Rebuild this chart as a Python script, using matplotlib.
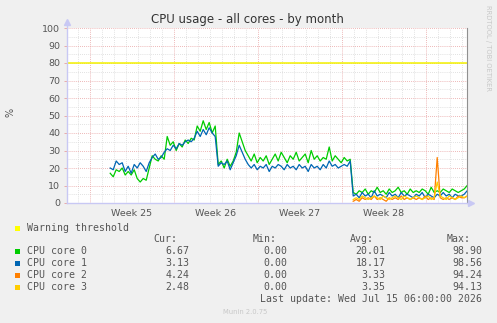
import numpy as np
import matplotlib
matplotlib.use("Agg")
import matplotlib.pyplot as plt
from matplotlib.patches import Rectangle

# ---- data (days since left edge of graph, 12 px per day) ----
t_start = 3.6
step = 0.25
core0 = [17, 15, 19, 18, 20, 16, 18, 16, 19, 14, 12, 14, 13, 20, 27, 25, 24, 27, 25, 38,
         33, 35, 30, 34, 32, 36, 34, 37, 36, 44, 41, 47, 42, 46, 40, 44, 22, 24, 20, 25,
         21, 24, 29, 40, 35, 30, 27, 24, 28, 23, 26, 24, 27, 22, 25, 28, 24, 29, 26, 23,
         27, 25, 29, 24, 26, 28, 23, 30, 25, 27, 24, 26, 25, 32, 24, 27, 25, 23, 26, 24,
         25, 6, 5, 7, 6, 8, 5, 7, 6, 9, 6, 7, 5, 8, 6, 7, 9, 6, 7, 5,
         8, 6, 7, 6, 8, 7, 5, 9, 6, 7, 6, 8, 7, 6, 8, 7, 6, 7, 8, 10]
core1 = [20, 19, 24, 22, 23, 18, 21, 17, 22, 20, 23, 21, 18, 23, 26, 28, 25, 26, 29, 31,
         30, 33, 31, 34, 33, 35, 36, 35, 37, 41, 38, 42, 39, 43, 40, 38, 21, 23, 22, 24,
         19, 23, 27, 33, 29, 25, 22, 20, 22, 19, 21, 20, 22, 18, 21, 20, 22, 21, 19, 22,
         20, 21, 19, 22, 20, 21, 18, 22, 20, 21, 19, 22, 20, 24, 21, 22, 20, 21, 22, 21,
         24, 4, 5, 3, 6, 4, 5, 3, 7, 4, 5, 4, 3, 6, 4, 5, 3, 6, 4, 5,
         4, 3, 5, 4, 6, 3, 5, 4, 3, 5, 4, 6, 4, 5, 3, 5, 4, 4, 5, 7]
t2_start = 23.85
core2 = [1, 2, 1, 3, 2, 3, 2, 4, 2, 3, 2, 1, 3, 2, 3, 2, 4, 2, 3, 2,
         3, 2, 3, 2, 4, 2, 3, 2, 26, 3, 2, 3, 2, 3, 2, 4, 3, 3, 4]
core3 = [2, 3, 2, 4, 3, 2, 3, 4, 3, 2, 4, 3, 2, 3, 4, 3, 2, 4, 3, 2,
         3, 4, 3, 2, 3, 4, 2, 3, 12, 4, 3, 2, 4, 3, 2, 3, 4, 3, 4]
warning = 80

names = ["CPU core 0", "CPU core 1", "CPU core 2", "CPU core 3"]
colors = ["#00cc00", "#0066b3", "#ff8000", "#ffcc00"]
cur = ["6.67", "3.13", "4.24", "2.48"]
mins = ["0.00", "0.00", "0.00", "0.00"]
avgs = ["20.01", "18.17", "3.33", "3.35"]
maxs = ["98.90", "98.56", "94.24", "94.13"]
week_labels = ["Week 25", "Week 26", "Week 27", "Week 28"]
week_starts = [1.92, 8.92, 15.92, 22.92, 29.92]

W, H = 497, 323
fig = plt.figure(figsize=(W / 100, H / 100), dpi=100, facecolor="#f0f0f0")


def fx(x):
    return x / W


def fy(y):
    return 1 - y / H


ax = fig.add_axes([fx(67), fy(203), 400 / W, 175 / H])
ax.set_facecolor("white")
xmax = 400 / 12
ax.set_xlim(0, xmax)
ax.set_ylim(0, 100)

# grid
for d in np.arange(0.92, xmax, 1.0):
    if min(abs(d - w) for w in week_starts) > 0.1:
        ax.axvline(d, color="#d8d8d8", lw=0.6, ls=(0, (1, 1.5)), zorder=0)
for v in range(5, 100, 10):
    ax.axhline(v, color="#d8d8d8", lw=0.6, ls=(0, (1, 1.5)), zorder=0)
for w in week_starts:
    ax.axvline(w, color="#e8a0a0", lw=0.6, ls=(0, (1, 1.5)), zorder=0.5)
for v in range(10, 101, 10):
    ax.axhline(v, color="#e8a0a0", lw=0.6, ls=(0, (1, 1.5)), zorder=0.5)

ax.axhline(warning, color="#f2f200", lw=1.1, zorder=1)

t1 = t_start + step * np.arange(len(core0))
t2 = t2_start + step * np.arange(len(core2))
ax.plot(t1, core0, color=colors[0], lw=0.9, zorder=2)
ax.plot(t1, core1, color=colors[1], lw=0.9, zorder=3)
ax.plot(t2, core2, color=colors[2], lw=0.9, zorder=4)
ax.plot(t2, core3, color=colors[3], lw=0.9, zorder=5)

for s in ["top", "left", "bottom"]:
    ax.spines[s].set_visible(False)
ax.spines["right"].set_color("#909090")
ax.spines["right"].set_linewidth(0.8)
axis_col = "#c8c8f4"
ax.plot([0, 0], [0, 102.5], color=axis_col, lw=1.0, clip_on=False, zorder=6)
ax.plot([0, xmax + 0.2], [0, 0], color=axis_col, lw=1.0, clip_on=False, zorder=6)
ax.plot([0], [103.2], marker="^", ms=4, color=axis_col, clip_on=False, zorder=6)
ax.plot([xmax + 0.3], [0], marker=">", ms=4, color=axis_col, clip_on=False, zorder=6)

ax.set_yticks(range(0, 101, 10))
ax.tick_params(axis="y", length=2, width=0.6, color="#e8a0a0", pad=3,
               labelsize=6.8, labelcolor="#555555")
ax.set_xticks([(a + b) / 2 for a, b in zip(week_starts[:-1], week_starts[1:])])
ax.set_xticklabels(week_labels)
ax.tick_params(axis="x", length=0, pad=4, labelsize=6.8, labelcolor="#555555")

fig.text(fx(247.5), fy(19), "CPU usage - all cores - by month", ha="center",
         va="center", fontsize=8.5, color="#333333")
fig.text(fx(10), fy(112), "%", rotation=90, ha="center", va="center",
         fontsize=7, color="#555555")
fig.text(fx(488), fy(5), "RRDTOOL / TOBI OETIKER", rotation=270, ha="center",
         va="top", fontsize=4.9, color="#c8c8c8")

# legend block
mono = dict(family="DejaVu Sans Mono", fontsize=7.1, color="#555555", va="center")


def square(x, y, c):
    fig.add_artist(Rectangle((fx(x), fy(y + 2.5)), 5 / W, 5 / H,
                             transform=fig.transFigure, color=c, lw=0))


square(15, 228, "#ffff00")
fig.text(fx(27), fy(228), "Warning threshold", ha="left", **mono)
fig.text(fx(177), fy(239.5), "Cur:", ha="right", **mono)
fig.text(fx(253), fy(239.5), "Min:", ha="left", **mono)
fig.text(fx(350), fy(239.5), "Avg:", ha="left", **mono)
fig.text(fx(447), fy(239.5), "Max:", ha="left", **mono)
rows = [251, 263.5, 275.5, 287.3]
for i, y in enumerate(rows):
    square(15, y, colors[i])
    fig.text(fx(27), fy(y), names[i], ha="left", **mono)
    fig.text(fx(189.5), fy(y), cur[i], ha="right", **mono)
    fig.text(fx(287), fy(y), mins[i], ha="right", **mono)
    fig.text(fx(385.5), fy(y), avgs[i], ha="right", **mono)
    fig.text(fx(482.5), fy(y), maxs[i], ha="right", **mono)
fig.text(fx(482.5), fy(299), "Last update: Wed Jul 15 06:00:00 2026", ha="right", **mono)
fig.text(fx(245), fy(312), "Munin 2.0.75", ha="center", va="center",
         fontsize=4.9, color="#c8c8c8")

fig.savefig("out.png", dpi=100, facecolor=fig.get_facecolor())
